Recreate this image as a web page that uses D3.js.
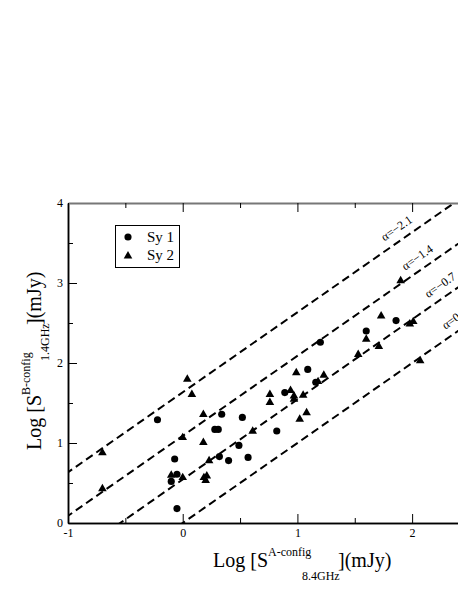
<!DOCTYPE html>
<html>
<head>
<meta charset="utf-8">
<title>Sy 1 / Sy 2 flux comparison</title>
<style>
body {
    margin: 0px;
    overflow: hidden;
    background: #fff;
}
text {
    font-family: "Liberation Serif", "DejaVu Serif", serif;
}
</style>
<script src="https://cdnjs.cloudflare.com/ajax/libs/d3/7.8.5/d3.min.js"></script>
</head>
<body>
<div id="chart"></div>
<script>

// log S(8.4GHz, A-config) vs log S(1.4GHz, B-config)
var sy1X = [-0.22, -0.07, -0.05, -0.10, -0.05, 0.34, 0.28, 0.31, 0.32, 0.40,
            0.49, 0.52, 0.57, 0.82, 0.89, 1.09, 1.20, 1.16, 1.60, 1.86];
var sy1Y = [1.29, 0.80, 0.61, 0.52, 0.18, 1.36, 1.17, 1.17, 0.83, 0.78,
            0.97, 1.32, 0.82, 1.15, 1.63, 1.92, 2.26, 1.76, 2.40, 2.53];

var sy2X = [-0.70, -0.70, -0.10, 0.00, 0.00, 0.04, 0.08, 0.18, 0.18, 0.23,
            0.185, 0.21, 0.20, 0.61, 0.76, 0.76, 0.94, 0.97, 0.97, 1.05,
            0.99, 1.02, 1.08, 1.23, 1.18, 1.53, 1.60, 1.71, 1.73, 1.90,
            1.98, 2.01, 2.07];
var sy2Y = [0.89, 0.44, 0.61, 0.58, 1.08, 1.81, 1.62, 1.37, 1.02, 0.79,
            0.58, 0.60, 0.545, 1.16, 1.62, 1.52, 1.67, 1.60, 1.56, 1.61,
            1.89, 1.31, 1.39, 1.86, 1.78, 2.12, 2.31, 2.22, 2.60, 3.04,
            2.50, 2.53, 2.04];

// spectral index lines: log S1.4 = log S8.4 - alpha * log(8.4/1.4)
var alphas = [-2.1, -1.4, -0.7, 0];
var alphaLabelX = [1.76, 1.94, 2.14, 2.29];

var xTicks = [-1, 0, 1, 2];
var yTicks = [0, 1, 2, 3, 4];
var xMinor = [-0.5, 0.5, 1.5];
var yMinor = [0.5, 1.5, 2.5, 3.5];

(function () {
    var width = 458, height = 592;
    var pLeft = 68, pRight = 458, pTop = 203, pBottom = 523;

    var svg = d3.select("#chart").append("svg")
        .attr("width", width)
        .attr("height", height);

    var x = d3.scaleLinear().domain([-1, 2.4]).range([pLeft, pRight]);
    var y = d3.scaleLinear().domain([0, 4]).range([pBottom, pTop]);

    svg.append("clipPath").attr("id", "plot-clip")
        .append("rect")
        .attr("x", pLeft).attr("y", pTop)
        .attr("width", pRight - pLeft).attr("height", pBottom - pTop);

    // dashed alpha lines
    var ratio = Math.log10(8.4 / 1.4);
    var line = d3.line().x(function (d) { return x(d[0]); }).y(function (d) { return y(d[1]); });

    var lines = svg.append("g").attr("clip-path", "url(#plot-clip)");
    alphas.forEach(function (a) {
        var off = -a * ratio;
        lines.append("path")
            .attr("d", line([[-1.2, -1.2 + off], [2.6, 2.6 + off]]))
            .attr("fill", "none")
            .attr("stroke", "#000")
            .attr("stroke-width", 2)
            .attr("stroke-dasharray", "8,4.5");
    });

    var angle = -Math.atan((y(0) - y(1)) / (x(1) - x(0))) * 180 / Math.PI;
    alphas.forEach(function (a, i) {
        var lx = alphaLabelX[i];
        var px = x(lx), py = y(lx - a * ratio) - 10;
        svg.append("text")
            .attr("transform", "translate(" + px + "," + py + ") rotate(" + angle + ")")
            .attr("font-size", 12)
            .text("\u03b1=" + (a === 0 ? "0" : "\u2212" + Math.abs(a).toFixed(1)));
    });

    // axes, ticks inward
    function styleAxis(g) {
        g.selectAll("path").attr("stroke", "#000").attr("stroke-width", 1.5);
        g.selectAll("line").attr("stroke", "#000").attr("stroke-width", 1);
        g.selectAll("text").attr("font-family", "Liberation Serif, serif")
            .attr("font-size", 12).attr("fill", "#000");
    }
    var fmt = function (d) { return String(d); };

    svg.append("g")
        .attr("transform", "translate(0," + pBottom + ")")
        .call(d3.axisBottom(x).tickValues(xTicks).tickFormat(fmt)
            .tickSize(-9).tickSizeOuter(0).tickPadding(5))
        .call(styleAxis);
    svg.append("g")
        .attr("transform", "translate(0," + pBottom + ")")
        .call(d3.axisBottom(x).tickValues(xMinor).tickFormat("").tickSize(-5).tickSizeOuter(0))
        .call(styleAxis);

    svg.append("g")
        .attr("transform", "translate(" + pLeft + ",0)")
        .call(d3.axisLeft(y).tickValues(yTicks).tickFormat(fmt)
            .tickSize(-9).tickSizeOuter(0).tickPadding(5))
        .call(styleAxis);
    svg.append("g")
        .attr("transform", "translate(" + pLeft + ",0)")
        .call(d3.axisLeft(y).tickValues(yMinor).tickFormat("").tickSize(-5).tickSizeOuter(0))
        .call(styleAxis);

    var topAxis = svg.append("g")
        .attr("transform", "translate(0," + pTop + ")")
        .call(d3.axisTop(x).tickValues(xTicks).tickFormat("").tickSize(-9).tickSizeOuter(0))
        .call(styleAxis);
    topAxis.select("path").attr("stroke", "#777").attr("stroke-width", 2);
    svg.append("g")
        .attr("transform", "translate(0," + pTop + ")")
        .call(d3.axisTop(x).tickValues(xMinor).tickFormat("").tickSize(-5).tickSizeOuter(0))
        .call(styleAxis)
        .select("path").remove();

    // points
    var circle = d3.symbol().type(d3.symbolCircle).size(40);
    var tri = d3.symbol().type(d3.symbolTriangle).size(32);

    svg.append("g").selectAll("path")
        .data(sy1X)
        .enter().append("path")
        .attr("d", circle)
        .attr("transform", function (d, i) { return "translate(" + x(d) + "," + y(sy1Y[i]) + ")"; })
        .attr("fill", "#000");

    svg.append("g").selectAll("path")
        .data(sy2X)
        .enter().append("path")
        .attr("d", tri)
        .attr("transform", function (d, i) { return "translate(" + x(d) + "," + (y(sy2Y[i]) + 1) + ")"; })
        .attr("fill", "#000");

    // legend
    var legend = svg.append("g");
    legend.append("rect")
        .attr("x", 115.5).attr("y", 225.5).attr("width", 64).attr("height", 42)
        .attr("fill", "#fff").attr("stroke", "#000").attr("stroke-width", 1);
    legend.append("path").attr("d", circle).attr("transform", "translate(128,237)").attr("fill", "#000");
    legend.append("path").attr("d", tri).attr("transform", "translate(128,256)").attr("fill", "#000");
    legend.append("text").attr("x", 147).attr("y", 242).attr("font-size", 15).text("Sy 1");
    legend.append("text").attr("x", 147).attr("y", 260).attr("font-size", 15).text("Sy 2");

    // axis titles
    var xt = svg.append("text").attr("x", 213).attr("y", 567).attr("font-size", 20);
    xt.append("tspan").text("Log [S");
    xt.append("tspan").attr("font-size", 12).attr("dy", -11).text("A-config");
    xt.append("tspan").attr("font-size", 12).attr("x", 302).attr("y", 580).text("8.4GHz");
    xt.append("tspan").attr("x", 338).attr("y", 567).text("](mJy)");

    var yt = svg.append("text").attr("transform", "translate(41,450) rotate(-90)").attr("font-size", 20);
    yt.append("tspan").text("Log [S");
    yt.append("tspan").attr("font-size", 12).attr("dy", -11).text("B-config");
    yt.append("tspan").attr("font-size", 12).attr("x", 89).attr("y", 8).text("1.4GHz");
    yt.append("tspan").attr("x", 125).attr("y", 0).text("](mJy)");
})();

</script>
</body>
</html>
